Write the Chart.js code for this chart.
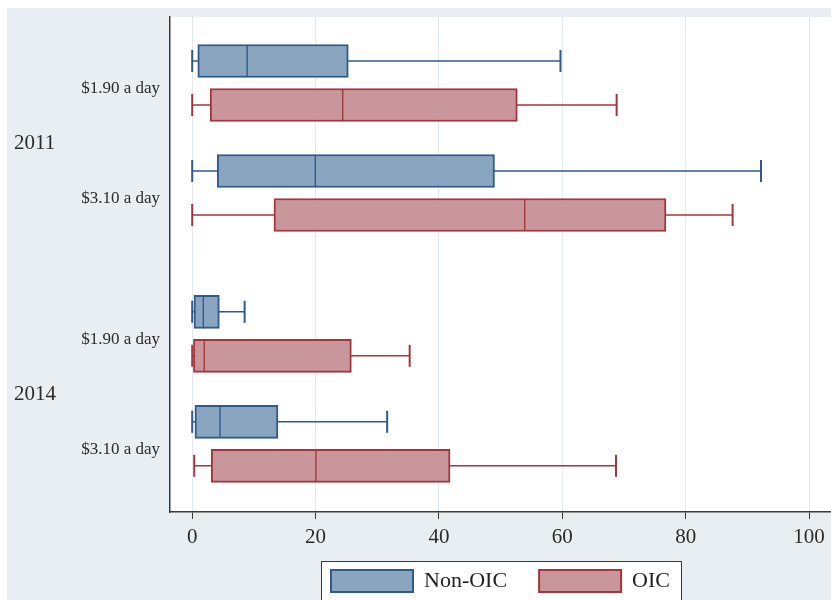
<!DOCTYPE html>
<html>
<head>
<meta charset="utf-8">
<script src="https://cdn.jsdelivr.net/npm/chart.js@4.4.1/dist/chart.umd.min.js"></script>
<style>
  html, body { margin: 0; padding: 0; background: #ffffff; }
  #wrap { width: 831px; height: 600px; }
</style>
</head>
<body>
<div id="wrap"><canvas id="chart" width="831" height="600"></canvas></div>
<script>
// Groups and rows, top to bottom
const years = ['2011', '2014'];
const povertyLines = ['$1.90 a day', '$3.10 a day'];
const seriesNames = ['Non-OIC', 'OIC'];
const xTicks = [0, 20, 40, 60, 80, 100];

// Box statistics, order: 2011 $1.90, 2011 $3.10, 2014 $1.90, 2014 $3.10
const nonOicMin = [0, 0, 0, 0];
const nonOicQ1 = [0.9, 4.05, 0.28, 0.44];
const nonOicMed = [8.9, 19.95, 1.8, 4.5];
const nonOicQ3 = [25.3, 49.0, 4.4, 13.9];
const nonOicMax = [59.7, 92.2, 8.5, 31.6];

const oicMin = [0, 0, 0, 0.33];
const oicQ1 = [2.9, 13.25, 0.2, 3.08];
const oicMed = [24.4, 53.9, 1.95, 20.05];
const oicQ3 = [52.7, 76.8, 25.8, 41.8];
const oicMax = [68.8, 87.6, 35.25, 68.7];

// slot layout on the y scale (gaps between boxes, pairs and groups)
const PAIR_STEP = 1, ROW_GAP = 1.5, GROUP_GAP = 2.2, Y_MAX = 11.25;
const LABEL_SHIFT = 0.12;

function buildSlots() {
    const slots = []; // position of the non-OIC box of each row; OIC sits one step below
    let pos = 1;
    years.forEach(() => {
        povertyLines.forEach((pl, r) => {
            slots.push(pos);
            pos += PAIR_STEP + (r < povertyLines.length - 1 ? ROW_GAP : GROUP_GAP);
        });
    });
    return slots;
}
const slots = buildSlots();

const colors = {
    'Non-OIC': { fill: '#8aa5c0', border: '#2f5a8b' },
    'OIC': { fill: '#c9979b', border: '#a3363d' }
};

function boxDatasets(name, mins, q1s, meds, q3s, maxs, offset) {
    const c = colors[name];
    const ys = slots.map(s => s + offset);
    const common = {
        type: 'bar',
        indexAxis: 'y',
        grouped: false,
        backgroundColor: c.fill,
        borderColor: c.border,
        borderSkipped: false,
        barThickness: 33,
        order: 1
    };
    // box split at the median, so the shared edge is the median line
    const lower = { ...common, label: name, borderWidth: { top: 2, bottom: 2, left: 2, right: 1 },
        data: ys.map((y, i) => ({ y: y, x: [q1s[i], meds[i]] })) };
    const upper = { ...common, label: name + ' upper', borderWidth: { top: 2, bottom: 2, left: 1, right: 2 },
        data: ys.map((y, i) => ({ y: y, x: [meds[i], q3s[i]] })) };
    // whiskers: one two-point line per box, caps are rotated line points
    const whiskers = ys.map((y, i) => ({
        type: 'line',
        label: name + ' whisker',
        data: [{ x: mins[i], y: y }, { x: maxs[i], y: y }],
        borderColor: c.border,
        borderWidth: 1.5,
        pointStyle: 'line',
        pointRotation: 90,
        pointRadius: 11,
        pointBorderWidth: 2,
        pointBorderColor: c.border,
        fill: false,
        order: 2
    }));
    return [lower, upper, ...whiskers];
}

const datasets = [
    ...boxDatasets('Non-OIC', nonOicMin, nonOicQ1, nonOicMed, nonOicQ3, nonOicMax, 0),
    ...boxDatasets('OIC', oicMin, oicQ1, oicMed, oicQ3, oicMax, PAIR_STEP)
];

const rowLabelTicks = slots.map(s => s + PAIR_STEP / 2 + LABEL_SHIFT);
const yearTicks = years.map((yr, g) => {
    const first = slots[g * povertyLines.length];
    const last = slots[(g + 1) * povertyLines.length - 1] + PAIR_STEP;
    return (first + last) / 2 + LABEL_SHIFT;
});

// background panels and legend frame
const backgroundPlugin = {
    id: 'stataBackground',
    beforeDraw(chart) {
        const { ctx, chartArea } = chart;
        ctx.save();
        ctx.fillStyle = '#ffffff';
        ctx.fillRect(0, 0, chart.width, chart.height);
        ctx.fillStyle = '#e8eef1';
        ctx.fillRect(7, 8, chart.width - 7, chart.height - 8);
        ctx.fillStyle = '#ffffff';
        ctx.fillRect(chartArea.left, chartArea.top, chartArea.right - chartArea.left, chartArea.bottom - chartArea.top);

        const boxes = chart.legend && chart.legend.legendHitBoxes;
        if (boxes && boxes.length) {
            const first = boxes[0], last = boxes[boxes.length - 1];
            const left = Math.round(first.left) - 9.5, right = Math.round(last.left + last.width) + 11.5;
            const top = Math.round(first.top) - 8.5;
            ctx.fillStyle = '#ffffff';
            ctx.fillRect(left, top, right - left, chart.height - top + 20);
            ctx.strokeStyle = '#3a3a3a';
            ctx.lineWidth = 1;
            ctx.strokeRect(left, top, right - left, chart.height - top + 20);
        }
        ctx.restore();
    }
};

Chart.defaults.font.family = "'Liberation Serif', 'Times New Roman', serif";
Chart.defaults.color = '#2b2b2b';

const ctx = document.getElementById('chart').getContext('2d');
new Chart(ctx, {
    data: { datasets: datasets },
    options: {
        responsive: false,
        animation: false,
        layout: {
            autoPadding: false,
            padding: { left: 14, right: 0, top: 17, bottom: -2 }
        },
        plugins: {
            tooltip: { enabled: false },
            legend: {
                position: 'bottom',
                fullSize: false,
                labels: {
                    boxWidth: 82,
                    boxHeight: 22,
                    padding: 21,
                    font: { size: 22 },
                    color: '#222222',
                    generateLabels: chart => seriesNames.map((name, i) => ({
                        text: name + (i < seriesNames.length - 1 ? '\u2002' : ''),
                        fillStyle: colors[name].fill,
                        strokeStyle: colors[name].border,
                        lineWidth: 2,
                        fontColor: '#222222',
                        hidden: false,
                        datasetIndex: chart.data.datasets.findIndex(d => d.label === name)
                    }))
                }
            }
        },
        scales: {
            x: {
                type: 'linear',
                position: 'bottom',
                offset: false,
                min: -3.6,
                max: 103.55,
                afterBuildTicks: scale => { scale.ticks = xTicks.map(v => ({ value: v })); },
                afterFit: scale => { scale.height = 37; scale.paddingLeft = 0; scale.paddingRight = 0; },
                grid: {
                    offset: false,
                    color: '#e2e8ed',
                    lineWidth: 1,
                    tickColor: '#3a3a3a',
                    tickLength: 7
                },
                border: { display: true, color: '#3a3a3a', width: 1.5 },
                ticks: {
                    font: { size: 21 },
                    color: '#2b2b2b',
                    padding: 6,
                    maxRotation: 0
                }
            },
            y: {
                type: 'linear',
                position: 'left',
                offset: false,
                min: 0,
                max: Y_MAX,
                reverse: true,
                weight: 0,
                afterBuildTicks: scale => { scale.ticks = rowLabelTicks.map(v => ({ value: v })); },
                afterFit: scale => { scale.width = 96; },
                grid: { display: false, offset: false, drawTicks: true, tickLength: 10 },
                border: { display: true, color: '#3a3a3a', width: 1.5 },
                ticks: {
                    autoSkip: false,
                    crossAlign: 'near',
                    padding: 0,
                    font: { size: 17 },
                    color: '#2b2b2b',
                    callback: (value, index) => povertyLines[index % povertyLines.length]
                }
            },
            yYear: {
                type: 'linear',
                axis: 'y',
                position: 'left',
                offset: false,
                min: 0,
                max: Y_MAX,
                reverse: true,
                weight: 1,
                afterBuildTicks: scale => { scale.ticks = yearTicks.map(v => ({ value: v })); },
                afterFit: scale => { scale.width = 60; },
                grid: { display: false, drawTicks: false },
                border: { display: false },
                ticks: {
                    autoSkip: false,
                    crossAlign: 'far',
                    padding: 0,
                    font: { size: 21 },
                    color: '#2b2b2b',
                    callback: (value, index) => years[index]
                }
            }
        }
    },
    plugins: [backgroundPlugin]
});
</script>
</body>
</html>
